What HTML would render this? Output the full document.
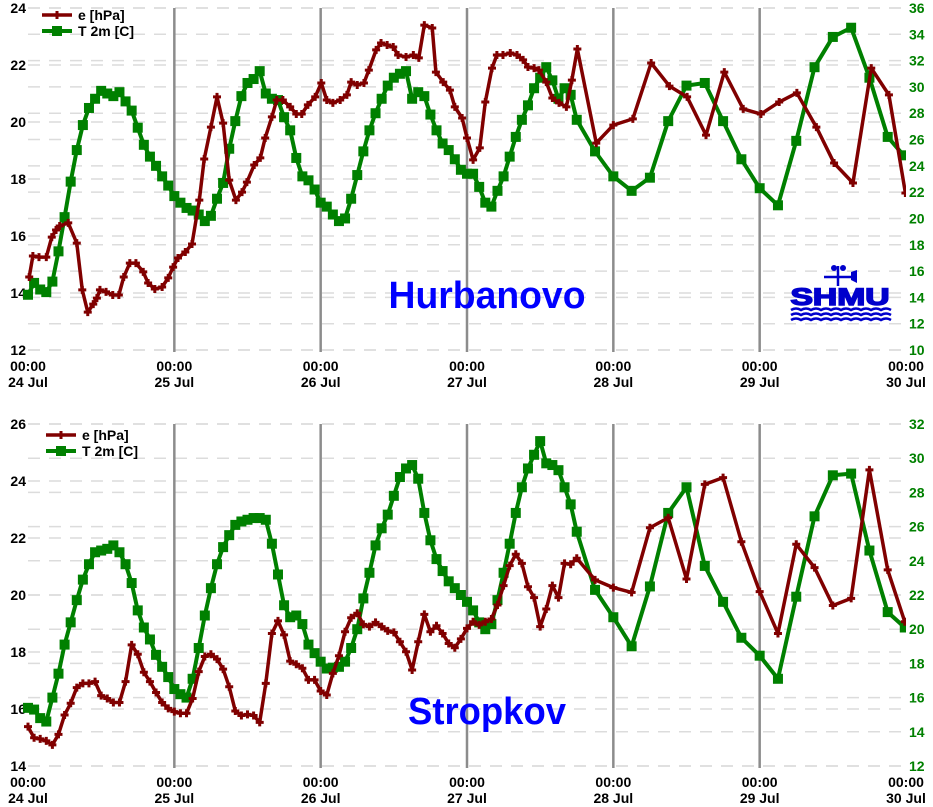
<!DOCTYPE html>
<html><head><meta charset="utf-8"><style>
body{margin:0;background:#fff;}
svg{display:block;font-family:"Liberation Sans",sans-serif;}
</style></head><body>
<svg id="c" width="933" height="807"></svg>
<script>
// ---------- data ----------
const dayLabels = ["24 Jul","25 Jul","26 Jul","27 Jul","28 Jul","29 Jul","30 Jul"];
const timeLabel = "00:00";
const hurbE_hours = [0.2,0.8,1.8,3.0,3.9,4.6,5.2,6.6,8.0,8.9,9.8,10.7,11.3,11.8,12.8,13.9,14.9,15.7,16.7,17.7,18.9,19.7,20.8,22.0,23.0,23.8,24.6,25.8,26.9,28.1,28.9,30.0,31.0,32.0,33.0,34.1,35.1,35.9,37.1,38.1,38.9,40.0,40.8,41.8,43.0,44.0,44.9,45.9,47.1,48.1,49.0,50.0,51.2,52.3,53.0,54.0,55.1,55.9,57.1,57.9,58.9,59.9,60.7,62.0,63.2,64.1,65.0,66.3,66.9,68.1,69.2,70.0,71.2,72.0,73.0,74.1,75.0,76.1,76.9,77.9,79.1,80.2,81.2,82.0,83.0,83.8,85.0,86.0,87.1,88.3,89.2,90.1,93.2,96.0,99.2,102.2,105.2,108.1,111.2,114.2,117.3,120.2,123.2,126.1,129.3,132.2,135.3,138.3,141.2,143.9];
const hurbE = [14.56,15.30,15.26,15.26,15.96,16.21,16.35,16.46,15.75,14.11,13.33,13.61,13.82,14.11,14.04,13.93,13.93,14.56,15.05,15.05,14.74,14.35,14.14,14.21,14.53,14.91,15.23,15.44,15.72,17.26,18.70,19.82,20.88,19.96,17.96,17.26,17.54,17.89,18.49,18.74,19.44,20.18,20.77,20.77,20.53,20.28,20.28,20.60,20.88,21.37,20.77,20.67,20.77,20.95,21.40,21.30,21.37,21.82,22.53,22.77,22.70,22.63,22.35,22.28,22.35,22.25,23.40,23.30,21.75,21.40,21.12,20.53,20.14,19.44,18.67,19.09,20.70,21.89,22.35,22.35,22.42,22.35,22.18,21.93,21.89,21.82,21.40,20.84,20.67,20.53,21.47,22.56,19.26,19.89,20.11,22.07,21.26,20.88,19.54,21.75,20.46,20.28,20.70,21.02,19.82,18.56,17.86,21.89,20.95,17.51];
const hurbT = [14.2,15.1,14.6,14.4,15.2,17.5,20.1,22.8,25.2,27.1,28.4,29.1,29.7,29.5,29.3,29.6,28.9,28.2,26.9,25.6,24.7,24.0,23.2,22.5,21.7,21.2,20.8,20.6,20.3,19.8,20.2,21.5,22.7,25.3,27.4,29.3,30.3,30.6,31.2,29.5,29.1,29.0,27.7,26.7,24.6,23.2,22.9,22.2,21.2,20.9,20.3,19.8,20.0,21.5,23.3,25.1,26.7,28.0,29.1,30.1,30.7,31.0,31.2,29.1,29.6,29.3,27.9,26.7,25.7,25.2,24.5,23.7,23.4,
 23.4,22.4,21.2,20.9,22.1,23.2,24.7,26.2,27.5,28.6,29.9,30.7,31.5,30.5,29.1,29.9,29.4,27.5,
 25.1,23.2,22.1,23.1,27.4,30.1,30.3,27.4,24.5,22.3,21.0,25.9,31.5,33.8,34.5,30.7,26.2,24.8];
const stropE = [15.38,14.99,14.95,14.88,14.74,15.11,15.79,16.20,16.75,16.90,16.90,16.96,16.47,16.37,16.23,16.23,16.96,18.25,17.92,17.29,16.96,16.58,16.23,16.02,15.91,15.85,15.85,16.37,17.31,17.84,17.92,17.75,17.40,16.78,15.93,15.77,15.81,15.77,15.53,16.90,18.65,19.09,18.60,17.68,17.57,17.43,17.02,17.02,16.63,16.49,17.25,17.87,18.71,19.20,19.36,18.97,18.89,19.04,18.89,18.74,18.69,18.36,18.01,17.37,18.36,19.32,18.71,18.92,18.65,18.30,18.15,18.46,18.83,
 19.06,18.95,19.06,19.16,19.65,20.33,21.03,21.43,21.11,20.29,19.91,18.89,19.51,20.33,19.91,21.11,21.08,21.29,
 20.53,20.26,20.09,22.36,22.71,20.56,23.88,24.12,21.87,20.12,18.65,21.78,20.96,19.63,19.88,24.39,20.88,19.06];
const stropT = [15.4,15.3,14.8,14.6,16.0,17.4,19.1,20.4,21.7,22.9,23.8,24.5,24.6,24.7,24.9,24.5,23.8,22.7,21.1,20.1,19.4,18.5,17.8,17.2,16.5,16.2,16.0,17.1,18.9,20.8,22.4,23.8,24.8,25.5,26.1,26.3,26.4,26.5,26.5,26.4,25.0,23.2,21.4,20.7,20.8,20.3,19.1,18.6,18.1,17.7,17.75,17.8,18.1,18.9,20.0,21.8,23.3,24.9,25.9,26.7,27.8,28.9,29.4,29.6,28.8,26.8,25.2,24.1,23.4,22.8,22.4,22.0,21.6,
 21.1,20.4,20.0,20.3,21.7,23.3,25.0,26.8,28.3,29.4,30.2,31.0,29.7,29.6,29.3,28.3,27.3,25.7,
 22.3,20.7,19.0,22.5,26.8,28.3,23.7,21.6,19.5,18.45,17.1,21.9,26.6,29.0,29.1,24.6,21.0,20.1];
const leftTicksTop = [12,14,16,18,20,22,24];
const rightTicksTop = [10,12,14,16,18,20,22,24,26,28,30,32,34,36];
const leftTicksBot = [14,16,18,20,22,24,26];
const rightTicksBot = [12,14,16,18,20,22,24,26,28,30,32];

// hourly 0..90 then 3-hourly 93..141 and final edge sample (category axis)
function stdHours(last){const h=[];for(let i=0;i<=90;i++)h.push(i);for(let i=93;i<=141;i+=3)h.push(i);h.push(last);return h;}
const hurbT_hours = stdHours(143.6);
const strop_hours = stdHours(143.8);

const NS="http://www.w3.org/2000/svg";
const svg=document.getElementById('c');
function mk(tag,attrs,parent){const e=document.createElementNS(NS,tag);for(const k in attrs)e.setAttribute(k,attrs[k]);(parent||svg).appendChild(e);return e;}

const X0=28,X1=906;
const xs=h=>X0+(X1-X0)*h/144;

function panel(cfg){
  const g=mk('g',{});
  
  
  const yL=v=>cfg.yb-(v-cfg.lmin)/(cfg.lmax-cfg.lmin)*(cfg.yb-cfg.yt);
  const yR=v=>cfg.yb-(v-cfg.rmin)/(cfg.rmax-cfg.rmin)*(cfg.yb-cfg.yt);
  const gg=mk('g',{},g);
  
  
  cfg.lt.forEach(v=>{mk('line',{x1:X0,x2:X1,y1:yL(v),y2:yL(v),stroke:'#dcdcdc','stroke-width':1.5,'stroke-dasharray':'12,9'},gg);});
  cfg.rt.forEach(v=>{mk('line',{x1:X0,x2:X1,y1:yR(v),y2:yR(v),stroke:'#dcdcdc','stroke-width':1.5,'stroke-dasharray':'12,9'},gg);});
  for(let d=1;d<6;d++){
    const l=mk('line',{x1:xs(d*24),x2:xs(d*24),y1:cfg.yt,y2:cfg.yb+2,stroke:'#8c8c8c','stroke-width':2.5},g);
    
    
  }
  cfg.lt.forEach(v=>{const t=mk('text',{x:26,y:yL(v)+5,'text-anchor':'end','font-size':14,'font-weight':'bold',fill:'#000'},g);t.textContent=v;
    
    });
  cfg.rt.forEach(v=>{const t=mk('text',{x:909,y:yR(v)+5,'font-size':14,'font-weight':'bold',fill:'#008000'},g);t.textContent=v;
    
    });
  dayLabels.forEach((d,i)=>{
    const t1=mk('text',{x:xs(i*24),y:cfg.yb+21,'text-anchor':'middle','font-size':14,'font-weight':'bold'},g);t1.textContent=timeLabel;
    
    
    const t2=mk('text',{x:xs(i*24),y:cfg.yb+37,'text-anchor':'middle','font-size':14,'font-weight':'bold'},g);t2.textContent=d;
    
    
  });
  const st=mk('text',{x:cfg.sx,y:cfg.sy,'text-anchor':'middle','font-size':38,'font-weight':'bold',fill:'#0000ff',textLength:cfg.sw,lengthAdjust:'spacingAndGlyphs'},g);
  st.textContent=cfg.station;
  
  
  const cid='clip'+cfg.name;
  const cp=mk('clipPath',{id:cid},g);mk('rect',{x:X0-6,y:cfg.yt-6,width:X1-X0+6,height:cfg.yb-cfg.yt+12},cp);
  const sT=mk('g',{'clip-path':'url(#'+cid+')'},g);
  
  
  const ptsT=cfg.tv.map((v,i)=>xs(cfg.th[i])+','+yR(v)).join(' ');
  mk('polyline',{points:ptsT,fill:'none',stroke:'#008000','stroke-width':4,'stroke-linejoin':'round'},sT);
  cfg.tv.forEach((v,i)=>{const r=mk('rect',{x:xs(cfg.th[i])-5,y:yR(v)-5,width:10,height:10,fill:'#008000'},sT);
    
    });
  const sE=mk('g',{'clip-path':'url(#'+cid+')'},g);
  
  
  const ptsE=cfg.ev.map((v,i)=>xs(cfg.eh[i])+','+yL(v)).join(' ');
  mk('polyline',{points:ptsE,fill:'none',stroke:'#800000','stroke-width':3.5,'stroke-linejoin':'round'},sE);
  cfg.ev.forEach((v,i)=>{const x=xs(cfg.eh[i]),y=yL(v);
    const p=mk('path',{d:`M${x-4},${y}H${x+4}M${x},${y-4}V${y+4}`,stroke:'#800000','stroke-width':3},sE);
    
    });
  const lg=mk('g',{},g);
  
  
  const lx=cfg.lx,ly=cfg.ly;
  mk('line',{x1:lx,x2:lx+30,y1:ly,y2:ly,stroke:'#800000','stroke-width':3.5},lg);
  mk('path',{d:`M${lx+11},${ly}h8M${lx+15},${ly-4}v8`,stroke:'#800000','stroke-width':3},lg);
  const t1=mk('text',{x:lx+36,y:ly+5,'font-size':14,'font-weight':'bold'},lg);t1.textContent='e [hPa]';
  
  
  mk('line',{x1:lx,x2:lx+30,y1:ly+16,y2:ly+16,stroke:'#008000','stroke-width':4},lg);
  mk('rect',{x:lx+10,y:ly+11,width:10,height:10,fill:'#008000'},lg);
  const t2=mk('text',{x:lx+36,y:ly+21,'font-size':14,'font-weight':'bold'},lg);t2.textContent='T 2m [C]';
  
  
}

panel({name:'hurbanovo',yt:8,yb:350,lmin:12,lmax:24,rmin:10,rmax:36,lt:leftTicksTop,rt:rightTicksTop,
  eh:hurbE_hours,ev:hurbE,th:hurbT_hours,tv:hurbT,station:'Hurbanovo',sx:487,sy:308,sw:197,lx:42,ly:15});
panel({name:'stropkov',yt:424,yb:766,lmin:14,lmax:26,rmin:12,rmax:32,lt:leftTicksBot,rt:rightTicksBot,
  eh:strop_hours,ev:stropE,th:strop_hours,tv:stropT,station:'Stropkov',sx:487,sy:724,sw:158,lx:46,ly:435});

// SHMU logo
const lgG=mk('g',{});


mk('line',{x1:838,x2:838,y1:266,y2:286,stroke:'#0000cc','stroke-width':2.5},lgG);
mk('line',{x1:824,x2:856,y1:277,y2:277,stroke:'#0000cc','stroke-width':2.5},lgG);
mk('circle',{cx:834,cy:268,r:3,fill:'#0000cc'},lgG);
mk('circle',{cx:843,cy:268,r:3,fill:'#0000cc'},lgG);
mk('path',{d:'M851,272 L857,270 L857,283 L851,280Z',fill:'#0000cc'},lgG);
const lt=mk('text',{x:840,y:305,'text-anchor':'middle','font-size':24,'font-weight':'bold',fill:'#0000cc',textLength:99,lengthAdjust:'spacingAndGlyphs',stroke:'#0000cc','stroke-width':1.5},lgG);
lt.textContent='SHMU';
for(let k=0;k<3;k++){
  let d='M791,'+(310+k*5);
  for(let i=0;i<10;i++){d+=' q5,-3 10,0';}
  mk('path',{d:d,fill:'none',stroke:'#0000cc','stroke-width':2.5},lgG);
}
</script>
</body></html>
